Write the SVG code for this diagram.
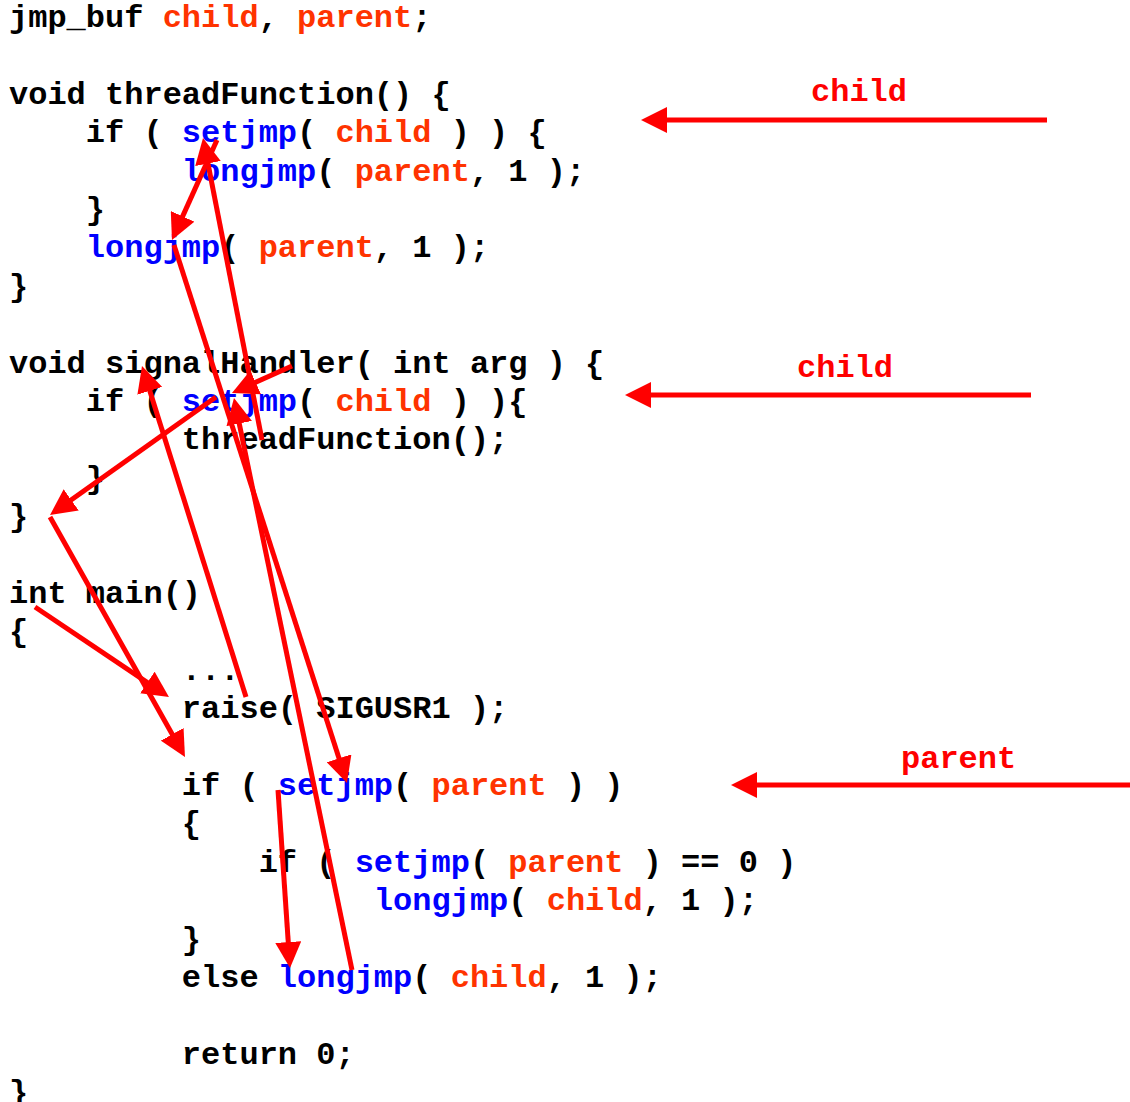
<svg xmlns="http://www.w3.org/2000/svg" width="1130" height="1102" viewBox="0 0 1130 1102">
  <style>
    text { font-family: "Liberation Mono", "Courier New", monospace; font-weight: bold; font-size: 32px; fill: #000; white-space: pre; }
    .fn { fill: #0000FF; }
    .var { fill: #FF3300; }
    .lbl { fill: #FF0000; }
    .flow { stroke: #FF0000; stroke-width: 5; fill: none; marker-end: url(#head); }
  </style>
  <defs>
    <marker id="head" viewBox="0 0 26 26" refX="14" refY="13" markerWidth="26" markerHeight="26" markerUnits="userSpaceOnUse" orient="auto">
      <path d="M0,0 L26,13 L0,26 z" fill="#FF0000"/>
    </marker>
  </defs>

  <!-- source listing: baseline = 27 + 38.4 * line -->
  <g id="code" xml:space="preserve" transform="translate(0,2)">
    <text x="9" y="25">jmp_buf <tspan class="var">child</tspan>, <tspan class="var">parent</tspan>;</text>
    <text x="9" y="101.8">void threadFunction() {</text>
    <text x="9" y="140.2">    if ( <tspan class="fn">setjmp</tspan>( <tspan class="var">child</tspan> ) ) {</text>
    <text x="9" y="178.6">         <tspan class="fn">longjmp</tspan>( <tspan class="var">parent</tspan>, 1 );</text>
    <text x="9" y="217">    }</text>
    <text x="9" y="255.4">    <tspan class="fn">longjmp</tspan>( <tspan class="var">parent</tspan>, 1 );</text>
    <text x="9" y="293.8">}</text>
    <text x="9" y="370.6">void signalHandler( int arg ) {</text>
    <text x="9" y="409">    if ( <tspan class="fn">setjmp</tspan>( <tspan class="var">child</tspan> ) ){</text>
    <text x="9" y="447.4">         threadFunction();</text>
    <text x="9" y="485.8">    }</text>
    <text x="9" y="524.2">}</text>
    <text x="9" y="601">int main()</text>
    <text x="9" y="639.4">{</text>
    <text x="9" y="677.8">         ...</text>
    <text x="9" y="716.2">         raise( SIGUSR1 );</text>
    <text x="9" y="793">         if ( <tspan class="fn">setjmp</tspan>( <tspan class="var">parent</tspan> ) )</text>
    <text x="9" y="831.4">         {</text>
    <text x="9" y="869.8">             if ( <tspan class="fn">setjmp</tspan>( <tspan class="var">parent</tspan> ) == 0 )</text>
    <text x="9" y="908.2">                   <tspan class="fn">longjmp</tspan>( <tspan class="var">child</tspan>, 1 );</text>
    <text x="9" y="946.6">         }</text>
    <text x="9" y="985">         else <tspan class="fn">longjmp</tspan>( <tspan class="var">child</tspan>, 1 );</text>
    <text x="9" y="1061.8">         return 0;</text>
    <text x="9" y="1100.2">}</text>
  </g>

  <!-- buffer labels on the right -->
  <g id="labels">
    <text id="label-child-1" class="lbl" x="811" y="101">child</text>
    <text id="label-child-2" class="lbl" x="797" y="377">child</text>
    <text id="label-parent" class="lbl" x="901" y="768">parent</text>
  </g>

  <!-- control-flow arrows -->
  <g id="connectors">
    <line class="flow" x1="1047" y1="120" x2="653" y2="120"/>
    <line class="flow" x1="1031" y1="395" x2="637" y2="395"/>
    <line class="flow" x1="1130" y1="785" x2="743" y2="785"/>

    <line class="flow" x1="35" y1="607" x2="159" y2="690.3"/>
    <line class="flow" x1="246" y1="697" x2="145.6" y2="377.4"/>
    <line class="flow" x1="292" y1="366" x2="242.9" y2="388.1"/>
    <line class="flow" x1="216" y1="397" x2="59.8" y2="508"/>
    <line class="flow" x1="50" y1="517" x2="179.1" y2="746.5"/>
    <line class="flow" x1="278" y1="790" x2="289.2" y2="956"/>
    <line class="flow" x1="352" y1="970" x2="236.4" y2="409.8"/>
    <line class="flow" x1="262" y1="440" x2="205.3" y2="149.8"/>
    <line class="flow" x1="217" y1="140" x2="176.9" y2="229.1"/>
    <line class="flow" x1="174" y1="245" x2="343.3" y2="771.6"/>
  </g>
</svg>
